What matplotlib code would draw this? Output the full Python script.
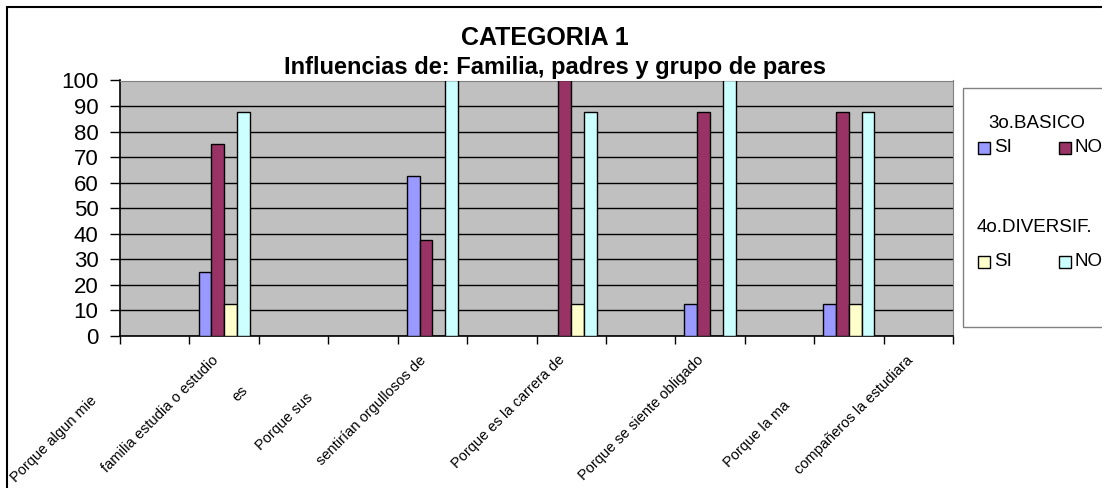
import matplotlib
matplotlib.use("Agg")
import matplotlib.pyplot as plt
from matplotlib.patches import Rectangle
import numpy as np

plt.rcParams['font.family'] = ['Liberation Sans', 'DejaVu Sans']

# ---- data ----
n_slots = 12
group_slots = [1, 4, 6, 8, 10]
si_basico = [25, 62.5, 0, 12.5, 12.5]
no_basico = [75, 37.5, 100, 87.5, 87.5]
si_divers = [12.5, 0, 12.5, 0, 12.5]
no_divers = [87.5, 100, 87.5, 100, 87.5]
series_names = ["SI", "NO", "SI", "NO"]
series_colors = ["#9999FF", "#993366", "#FFFFCC", "#CCFFFF"]
legend_titles = ["3o.BASICO", "4o.DIVERSIF."]
yticks = list(range(0, 101, 10))

upper_labels = ["familia estudia o estudio", "sentirían orgullosos de",
                "Porque es la carrera de", "Porque se siente obligado",
                "compañeros la estudiara"]
upper_pos = [0.88, 3.88, 5.88, 7.87, 10.9]
lower_labels = ["Porque algun mie", "es", "Porque sus", "Porque la ma"]
lower_pos = [-0.86, 1.31, 2.25, 9.12]
lower_drop = [62, 52, 59, 67]

title1 = "CATEGORIA 1"
title2 = "Influencias de: Familia, padres y grupo de pares"

# ---- figure ----
W, H = 1102, 488
fig = plt.figure(figsize=(W / 100, H / 100), dpi=100)
fig.patch.set_facecolor("white")

def fx(px):
    return px / W

def fy(py):
    return 1 - py / H

# outer chart border (extends beyond the picture on right/bottom)
fig.patches.append(Rectangle((fx(7), fy(600)), fx(1200), fy(7) - fy(600),
                             transform=fig.transFigure, fill=False,
                             edgecolor="black", linewidth=1.5))

ax = fig.add_axes([fx(120), fy(336), fx(953) - fx(120), fy(80.5) - fy(336)])
ax.set_facecolor("#C0C0C0")

bw = 0.184
all_series = [si_basico, no_basico, si_divers, no_divers]
x = np.array(group_slots, dtype=float)
for k, (vals, col) in enumerate(zip(all_series, series_colors)):
    ax.bar(x + (k - 1.5) * bw, vals, width=bw, color=col, edgecolor="black",
           linewidth=1.0, zorder=3)

ax.set_xlim(-0.5, n_slots - 0.5)
ax.set_ylim(0, 100)
ax.set_yticks(yticks)
ax.yaxis.grid(True, color="black", linewidth=1.0, zorder=1)
ax.set_axisbelow(True)
ax.tick_params(axis="y", direction="out", length=7, width=1, labelsize=16,
               pad=8.5, colors="black")
ax.set_xticks(np.arange(-0.5, n_slots, 1.0))
ax.set_xticklabels([])
ax.tick_params(axis="x", direction="out", length=6, width=1)
for s in ["top", "right"]:
    ax.spines[s].set_color("#808080")
for s in ["left", "bottom"]:
    ax.spines[s].set_color("black")
    ax.spines[s].set_linewidth(1.2)

axh = 336 - 80.5
tr = ax.get_xaxis_transform()
for lab, p in zip(upper_labels, upper_pos):
    ax.text(p, -22 / axh, lab, transform=tr, rotation=45, rotation_mode="anchor",
            ha="right", va="center", fontsize=10.5, clip_on=False)
for lab, p, d in zip(lower_labels, lower_pos, lower_drop):
    ax.text(p, -d / axh, lab, transform=tr, rotation=45, rotation_mode="anchor",
            ha="right", va="center", fontsize=10.5, clip_on=False)

# titles
fig.text(fx(545), fy(38), title1, ha="center", va="center", fontsize=18,
         fontweight="bold")
fig.text(fx(555), fy(67), title2, ha="center", va="center", fontsize=17,
         fontweight="bold")

# legend (manual layout)
fig.patches.append(Rectangle((fx(963), fy(327)), fx(300), fy(88) - fy(327),
                             transform=fig.transFigure, facecolor="white",
                             edgecolor="#808080", linewidth=1.0))
rows = [(123, 148, 988), (228, 262, 977)]
marker_x = [978, 1059]
for g, (ty, ey, tx) in enumerate(rows):
    fig.text(fx(tx), fy(ty), legend_titles[g], ha="left", va="center",
             fontsize=13.5)
    for j in range(2):
        idx = 2 * g + j
        mx = marker_x[j]
        fig.patches.append(Rectangle((fx(mx), fy(ey + 6)), fx(12), fy(ey - 6) - fy(ey + 6),
                                     transform=fig.transFigure,
                                     facecolor=series_colors[idx],
                                     edgecolor="black", linewidth=1.0))
        fig.text(fx(mx + 16), fy(ey), series_names[idx], ha="left", va="center",
                 fontsize=13.5)

fig.savefig("out.png", dpi=100)
